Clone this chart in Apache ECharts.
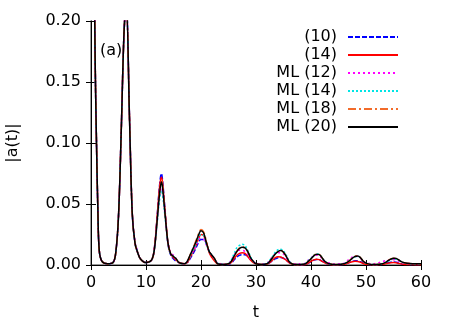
<!DOCTYPE html>
<html>
<head>
<meta charset="utf-8">
<script src="https://cdn.jsdelivr.net/npm/echarts@6/dist/echarts.min.js"></script>
<style>
  html, body { margin: 0; padding: 0; background: #fff; }
  #chart { width: 463px; height: 324px; }
</style>
</head>
<body>
<div id="chart"></div>
<script>
// time grid (shared by all curves)
const T = [
  0, 0.5, 0.75, 1, 1.25, 1.5, 2, 3, 4, 4.5,
  5, 5.5, 6, 6.4, 7, 7.5, 8, 8.5, 9, 10,
  11, 11.5, 12, 12.5, 12.8, 13, 13.5, 14, 14.5, 15,
  15.5, 16, 17, 17.5, 18, 19, 19.5, 20, 20.5, 21,
  21.5, 22, 22.5, 23, 24, 25, 25.5, 26, 26.5, 27,
  27.5, 28, 28.5, 29, 29.5, 30, 31, 32, 32.5, 33,
  33.5, 34, 34.5, 35, 35.5, 36, 36.5, 37, 38, 39,
  39.5, 40, 40.5, 41, 41.5, 42, 42.5, 43, 43.5, 44,
  45, 46, 46.5, 47, 47.5, 48, 48.5, 49, 49.5, 50,
  51, 52, 53, 53.5, 54, 54.5, 55, 55.5, 56, 56.5,
  57, 58, 59, 60
]

// (10)
const a10 = [
  1.0, 0.30, 0.17, 0.10, 0.045, 0.012, 0.003, 0.001, 0.002, 0.010,
  0.040, 0.110, 0.190, 0.215, 0.122, 0.043, 0.018, 0.010, 0.005, 0.002,
  0.004, 0.013, 0.039, 0.067, 0.075, 0.070, 0.043, 0.017, 0.008, 0.005,
  0.003, 0.002, 0.001, 0.002, 0.005, 0.013, 0.018, 0.021, 0.021, 0.017,
  0.011, 0.007, 0.004, 0.0015, 0.0005, 0.0005, 0.0015, 0.004, 0.0065, 0.008,
  0.0085, 0.0085, 0.007, 0.005, 0.0025, 0.001, 0.0005, 0.0008, 0.002, 0.0035,
  0.005, 0.006, 0.0062, 0.0055, 0.004, 0.0022, 0.001, 0.0005, 0.0003, 0.0006,
  0.0015, 0.0028, 0.004, 0.0045, 0.0043, 0.0032, 0.002, 0.001, 0.0005, 0.0003,
  0.0003, 0.0006, 0.0012, 0.0022, 0.003, 0.0035, 0.0034, 0.0027, 0.0015, 0.0007,
  0.0003, 0.0003, 0.0008, 0.0013, 0.0019, 0.0023, 0.0025, 0.0022, 0.0015, 0.0009,
  0.0006, 0.0005, 0.0004, 0.0004
]

// (14)
const a14 = [
  1.0, 0.30, 0.17, 0.10, 0.045, 0.012, 0.003, 0.001, 0.002, 0.010,
  0.040, 0.110, 0.190, 0.215, 0.122, 0.043, 0.018, 0.010, 0.005, 0.002,
  0.004, 0.013, 0.038, 0.065, 0.072, 0.068, 0.042, 0.018, 0.009, 0.006,
  0.004, 0.002, 0.001, 0.002, 0.006, 0.015, 0.021, 0.025, 0.024, 0.018,
  0.010, 0.006, 0.003, 0.001, 0.0005, 0.0008, 0.002, 0.005, 0.008, 0.0095,
  0.010, 0.0095, 0.007, 0.004, 0.002, 0.001, 0.0005, 0.0008, 0.002, 0.004,
  0.006, 0.0068, 0.0066, 0.0055, 0.004, 0.002, 0.001, 0.0005, 0.0003, 0.0005,
  0.0015, 0.003, 0.0042, 0.0047, 0.0044, 0.003, 0.0018, 0.001, 0.0005, 0.0003,
  0.0003, 0.0006, 0.0012, 0.002, 0.0027, 0.003, 0.0029, 0.0022, 0.0012, 0.0006,
  0.0003, 0.0003, 0.0006, 0.001, 0.0015, 0.0019, 0.002, 0.0018, 0.0013, 0.0008,
  0.0005, 0.0004, 0.0003, 0.0003
]

// ML (12)
const ml12 = [
  1.0, 0.30, 0.17, 0.10, 0.045, 0.012, 0.003, 0.001, 0.002, 0.010,
  0.040, 0.110, 0.190, 0.215, 0.120, 0.042, 0.019, 0.011, 0.005, 0.002,
  0.004, 0.012, 0.034, 0.057, 0.063, 0.060, 0.039, 0.019, 0.010, 0.008,
  0.005, 0.002, 0.001, 0.003, 0.007, 0.015, 0.020, 0.022, 0.021, 0.016,
  0.011, 0.008, 0.005, 0.002, 0.0008, 0.0015, 0.004, 0.008, 0.011, 0.012,
  0.012, 0.011, 0.009, 0.005, 0.003, 0.0015, 0.0008, 0.0015, 0.004, 0.007,
  0.009, 0.010, 0.010, 0.009, 0.006, 0.003, 0.0015, 0.001, 0.001, 0.0015,
  0.004, 0.0058, 0.0075, 0.008, 0.0075, 0.0055, 0.003, 0.002, 0.0015, 0.001,
  0.001, 0.0015, 0.003, 0.005, 0.0065, 0.0072, 0.007, 0.0055, 0.003, 0.002,
  0.001, 0.0015, 0.003, 0.0035, 0.004, 0.0042, 0.0043, 0.004, 0.003, 0.002,
  0.0015, 0.0012, 0.001, 0.001
]

// ML (14)
const ml14 = [
  1.0, 0.30, 0.17, 0.10, 0.045, 0.012, 0.003, 0.001, 0.002, 0.010,
  0.040, 0.110, 0.190, 0.215, 0.121, 0.042, 0.018, 0.010, 0.005, 0.002,
  0.004, 0.012, 0.033, 0.055, 0.061, 0.058, 0.038, 0.018, 0.009, 0.007,
  0.005, 0.002, 0.001, 0.003, 0.007, 0.016, 0.022, 0.025, 0.024, 0.017,
  0.011, 0.008, 0.005, 0.0015, 0.0005, 0.0012, 0.004, 0.009, 0.014, 0.016,
  0.017, 0.016, 0.012, 0.007, 0.003, 0.001, 0.0005, 0.0012, 0.004, 0.007,
  0.0105, 0.0125, 0.013, 0.0115, 0.008, 0.0035, 0.0012, 0.0005, 0.0005, 0.0012,
  0.0035, 0.0055, 0.008, 0.009, 0.0088, 0.0062, 0.003, 0.0015, 0.0008, 0.0005,
  0.0005, 0.001, 0.0022, 0.0038, 0.0055, 0.0068, 0.007, 0.0058, 0.003, 0.0015,
  0.0005, 0.0005, 0.001, 0.002, 0.0033, 0.0045, 0.005, 0.0048, 0.0038, 0.0024,
  0.0017, 0.0011, 0.0009, 0.0009
]

// ML (18)
const ml18 = [
  1.0, 0.30, 0.17, 0.10, 0.045, 0.012, 0.003, 0.001, 0.002, 0.010,
  0.040, 0.110, 0.190, 0.215, 0.120, 0.042, 0.018, 0.010, 0.005, 0.002,
  0.004, 0.012, 0.036, 0.061, 0.069, 0.065, 0.041, 0.018, 0.009, 0.007,
  0.005, 0.002, 0.001, 0.003, 0.008, 0.019, 0.025, 0.029, 0.027, 0.019,
  0.011, 0.008, 0.005, 0.001, 0.0005, 0.001, 0.003, 0.007, 0.011, 0.014,
  0.015, 0.014, 0.011, 0.006, 0.003, 0.001, 0.0005, 0.001, 0.003, 0.006,
  0.009, 0.011, 0.012, 0.0105, 0.007, 0.003, 0.001, 0.0005, 0.0005, 0.001,
  0.003, 0.005, 0.0078, 0.009, 0.0087, 0.006, 0.003, 0.0015, 0.0008, 0.0005,
  0.0005, 0.001, 0.002, 0.0037, 0.0057, 0.0072, 0.0075, 0.006, 0.003, 0.0015,
  0.0005, 0.0005, 0.001, 0.002, 0.0036, 0.005, 0.0056, 0.0054, 0.004, 0.0025,
  0.0018, 0.0012, 0.001, 0.001
]

// ML (20)
const ml20 = [
  1.0, 0.30, 0.17, 0.10, 0.045, 0.012, 0.003, 0.001, 0.002, 0.010,
  0.040, 0.110, 0.190, 0.215, 0.120, 0.042, 0.018, 0.010, 0.005, 0.002,
  0.004, 0.012, 0.035, 0.060, 0.068, 0.064, 0.040, 0.018, 0.009, 0.007,
  0.005, 0.002, 0.001, 0.003, 0.008, 0.018, 0.024, 0.028, 0.026, 0.018,
  0.011, 0.008, 0.005, 0.001, 0.0005, 0.001, 0.003, 0.007, 0.011, 0.0135,
  0.0145, 0.014, 0.011, 0.006, 0.003, 0.001, 0.0005, 0.001, 0.003, 0.006,
  0.009, 0.011, 0.0118, 0.0105, 0.007, 0.003, 0.001, 0.0005, 0.0005, 0.001,
  0.003, 0.005, 0.0075, 0.0088, 0.0085, 0.006, 0.003, 0.0015, 0.0008, 0.0005,
  0.0005, 0.001, 0.002, 0.0035, 0.0055, 0.007, 0.0074, 0.006, 0.003, 0.0015,
  0.0005, 0.0005, 0.001, 0.002, 0.0035, 0.0048, 0.0055, 0.0053, 0.004, 0.0025,
  0.0018, 0.0012, 0.001, 0.001
]

const names = ['(10)', '(14)', 'ML (12)', 'ML (14)', 'ML (18)', 'ML (20)']
const values = [a10, a14, ml12, ml14, ml18, ml20]
const colors = ['#0000ff', '#ff0000', '#ff00ff', '#00e5e5', '#f26b2a', '#000000']
const dashes = [[5, 2], 'solid', [2, 3], [2, 2], [8, 3, 2, 3], 'solid']

values.forEach((v, i) => {
  if (v.length !== T.length) throw new Error(names[i] + ' length ' + v.length + ' != ' + T.length)
})

const font = 'DejaVu Sans, Liberation Sans, sans-serif'
const chart = echarts.init(document.getElementById('chart'))

const tickStyle = { inside: true, length: 5, lineStyle: { color: '#000' } }

const option = {
  animation: false,
  textStyle: { fontFamily: font },
  grid: { left: 91, right: 42, top: 21, bottom: 59, containLabel: false, outerBoundsMode: 'none' },
  title: {
    text: '(a)',
    left: 95,
    top: 38,
    textStyle: { fontSize: 16, fontWeight: 'normal', color: '#000', fontFamily: font }
  },
  legend: {
    orient: 'vertical',
    right: 59,
    top: 24,
    align: 'right',
    itemWidth: 50,
    itemHeight: 14,
    itemGap: 2,
    itemStyle: { opacity: 0 },
    textStyle: { fontSize: 16, color: '#000', fontFamily: font, padding: [0, 6, 0, 0] },
    data: names
  },
  xAxis: [
    {
      type: 'value', min: 0, max: 60, interval: 10, position: 'bottom',
      name: 't', nameLocation: 'middle', nameGap: 40,
      nameTextStyle: { fontSize: 16, color: '#000' },
      axisLine: { lineStyle: { color: '#777', width: 1.5 } },
      axisTick: tickStyle,
      axisLabel: { fontSize: 16, color: '#000', margin: 10 },
      splitLine: { show: false }
    },
    {
      type: 'value', min: 0, max: 60, interval: 10, position: 'top',
      axisLine: { lineStyle: { color: '#000', width: 1 } },
      axisTick: tickStyle,
      axisLabel: { show: false },
      splitLine: { show: false }
    }
  ],
  yAxis: [
    {
      type: 'value', min: 0, max: 0.2, interval: 0.05, position: 'left',
      name: '|a(t)|', nameLocation: 'middle', nameGap: 70,
      nameTextStyle: { fontSize: 16, color: '#000' },
      axisLine: { show: true, lineStyle: { color: '#777', width: 1.5 } },
      axisTick: tickStyle,
      axisLabel: { fontSize: 16, color: '#000', margin: 10, formatter: v => v.toFixed(2) },
      splitLine: { show: false }
    },
    {
      type: 'value', min: 0, max: 0.2, interval: 0.05, position: 'right',
      axisLine: { show: true, lineStyle: { color: '#000', width: 1 } },
      axisTick: tickStyle,
      axisLabel: { show: false },
      splitLine: { show: false }
    }
  ],
  series: values.map((v, i) => ({
    name: names[i],
    type: 'line',
    xAxisIndex: 0,
    yAxisIndex: 0,
    symbol: 'none',
    smooth: 0.35,
    clip: true,
    color: colors[i],
    lineStyle: { color: colors[i], width: 1.5, type: dashes[i] },
    data: T.map((t, j) => [t, v[j]])
  }))
}

chart.setOption(option)
</script>
</body>
</html>
